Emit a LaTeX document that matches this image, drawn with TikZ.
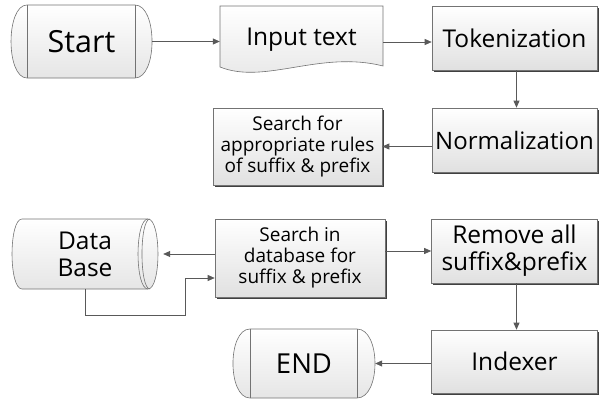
\documentclass[tikz,border=0pt]{standalone}
\usepackage{fontspec}
\setmainfont{Open Sans}
\usetikzlibrary{shadows,arrows.meta}
\begin{document}
\begin{tikzpicture}[x=1pt,y=-1pt,
  box/.style={draw=black!55, line width=0.6pt, top color=white, bottom color=black!12,
    drop shadow={shadow xshift=1.6pt, shadow yshift=-1.6pt, fill=black!75, opacity=1},
    align=center, inner sep=0pt},
  shp/.style={draw=black!55, line width=0.6pt, top color=white, bottom color=black!10},
  lbl/.style={inner sep=0pt, align=center},
  arr/.style={draw=black!65, line width=0.7pt, -{Triangle[length=7pt,width=6pt]}},
  ln/.style={draw=black!55, line width=0.6pt},
]
\useasboundingbox (0,0) rectangle (600,402);

% Start terminator
\shade[shp] (27,5) -- (135,5) .. controls (157.7,5) and (157.7,78) .. (135,78)
  -- (27,78) .. controls (5.7,78) and (5.7,5) .. (27,5) -- cycle;
\draw[ln] (27,5) -- (27,78) (135,5) -- (135,78);
\node[lbl, minimum width=141pt, minimum height=73pt, font=\fontsize{30.5}{34}\selectfont] (start) at (81.5,41.5) {Start};

% Input text (document)
\shade[shp] (220,6) -- (383,6) -- (383,66) .. controls (320,50) and (265,85) .. (220,67) -- cycle;
\node[lbl, minimum width=163pt, minimum height=72pt, font=\fontsize{24.5}{28}\selectfont] (input) at (301.5,42) {\raisebox{10.5pt}{Input text}};

% Rect boxes
\node[box, minimum width=165pt, minimum height=64pt, font=\fontsize{24.5}{28}\selectfont] (tok) at (514.5,38) {Tokenization};
\node[box, minimum width=165pt, minimum height=64pt, font=\fontsize{24}{28}\selectfont] (norm) at (514.5,140) {Normalization};
\node[box, minimum width=169pt, minimum height=77pt, font=\fontsize{19}{21}\selectfont] (rules) at (297.5,146.5) {Search for\\appropriate rules\\of suffix \& prefix};
\node[box, minimum width=170pt, minimum height=78pt, font=\fontsize{19}{21}\selectfont] (sdb) at (300,258) {Search in\\database for\\suffix \& prefix};
\node[box, minimum width=166pt, minimum height=64pt, font=\fontsize{24.5}{27}\selectfont] (rem) at (514.5,251) {Remove all\\suffix\&prefix};
\node[box, minimum width=166pt, minimum height=63pt, font=\fontsize{24.5}{28}\selectfont] (idx) at (514.5,361.5) {Indexer};

% Data Base cylinder
\shade[shp] (22,219) -- (148,219) .. controls (161.3,219) and (161.3,289) .. (148,289)
  -- (22,289) .. controls (8.7,289) and (8.7,219) .. (22,219) -- cycle;
\draw[ln] (148,219) .. controls (134.7,219) and (134.7,289) .. (148,289);
\draw[ln] (150,219) .. controls (139.3,219) and (139.3,289) .. (150,289);
\node[lbl, minimum width=148pt, minimum height=70pt, font=\fontsize{24.5}{27}\selectfont] (db) at (85,254) {Data\\Base};

% END terminator
\shade[shp] (250,329) -- (357,329) .. controls (381,329) and (381,398) .. (357,398)
  -- (250,398) .. controls (227.3,398) and (227.3,329) .. (250,329) -- cycle;
\draw[ln] (250,329) -- (250,398) (357,329) -- (357,398);
\node[lbl, minimum width=142pt, minimum height=69pt, font=\fontsize{27.5}{32}\selectfont] (end) at (304,363.5) {END};

% Connectors
\draw[arr] (start.east) -- (start.east -| input.west);
\draw[arr] (input.east) -- (input.east -| tok.west);
\draw[arr] ([xshift=2pt]tok.south) -- ([xshift=2pt]norm.north);
\draw[arr] (norm.west |- rules.east) -- (rules.east);
\draw[arr] (sdb.west |- db.east) -- ([xshift=4pt]db.east);
\coordinate (k1) at (185,315);
\draw[arr] (db.south) |- (k1) |- ([yshift=-20pt]sdb.west);
\draw[arr] (sdb.east |- rem.west) -- (rem.west);
\draw[arr] ([xshift=2pt]rem.south) -- ([xshift=2pt]idx.north);
\draw[arr] (idx.west |- end.east) -- (end.east);
\end{tikzpicture}
\end{document}
